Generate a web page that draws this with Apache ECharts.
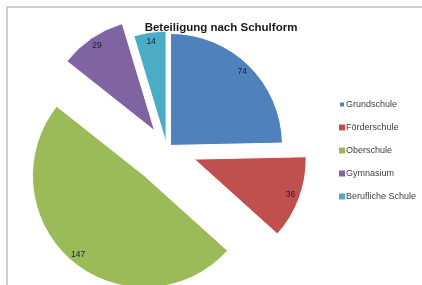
<!DOCTYPE html>
<html>
<head>
<meta charset="utf-8">
<script src="https://cdn.jsdelivr.net/npm/echarts@6/dist/echarts.min.js"></script>
<style>
html,body{margin:0;padding:0;background:#fff;}
#frame{position:absolute;left:6px;top:6px;width:420px;height:285px;border-top:2px solid #cfcfcf;border-left:2px solid #cfcfcf;}
#chart{position:absolute;left:0;top:0;width:422px;height:285px;}
</style>
</head>
<body>
<div id="frame"></div>
<div id="chart"></div>
<script>
const titleText = 'Beteiligung nach Schulform';
const categories = ['Grundschule', 'Förderschule', 'Oberschule', 'Gymnasium', 'Berufliche Schule'];
const values = [74, 36, 147, 29, 14];
const colors = ['#4F81BD', '#C0504D', '#9BBB59', '#8064A2', '#4BACC6'];
const explode = [5, 29, 35, 22, 6];

const center = [167, 149];
const R = 112;

const series = [];
categories.forEach((c, i) => {
  series.push({
    type: 'pie',
    center: center,
    radius: [0, R],
    startAngle: 90,
    clockwise: true,
    selectedMode: 'single',
    selectedOffset: explode[i],
    silent: true,
    animation: false,
    label: {show: false},
    labelLine: {show: false},
    emphasis: {disabled: true},
    data: values.map((v, j) => ({
      name: categories[j],
      value: v,
      selected: j === i,
      itemStyle: j === i ? {color: colors[j], borderColor: '#ffffff', borderWidth: 1}
                         : {color: 'rgba(0,0,0,0)', borderWidth: 0}
    }))
  });
  series.push({
    type: 'pie',
    center: center,
    radius: [R * 0.78, R],
    startAngle: 90,
    clockwise: true,
    selectedMode: 'single',
    selectedOffset: explode[i],
    silent: true,
    animation: false,
    z: 5,
    labelLine: {show: false},
    emphasis: {disabled: true},
    data: values.map((v, j) => ({
      name: categories[j],
      value: v,
      selected: j === i,
      itemStyle: {color: 'rgba(0,0,0,0)', borderWidth: 0},
      label: {
        show: j === i,
        position: 'inside',
        formatter: '{c}',
        color: '#222233',
        fontSize: 8.5,
        fontFamily: 'Liberation Sans'
      }
    }))
  });
});

const chart = echarts.init(document.getElementById('chart'), null, {renderer: 'canvas'});
chart.setOption({
  animation: false,
  backgroundColor: 'transparent',
  title: {
    text: titleText,
    left: 216,
    textAlign: 'center',
    top: 17,
    textStyle: {fontSize: 11.5, fontWeight: 'bold', color: '#1a1a1a', fontFamily: 'Liberation Sans'}
  },
  legend: {
    orient: 'vertical',
    left: 333,
    top: 95,
    itemWidth: 6,
    itemHeight: 6,
    itemGap: 14,
    icon: 'rect',
    selectedMode: false,
    textStyle: {fontSize: 9, color: '#404040', fontFamily: 'Liberation Sans', padding: [0, 0, 0, -4]},
    data: categories.map((c, j) => ({name: c, itemStyle: {color: colors[j], opacity: 1}}))
  },
  series: series
});
</script>
</body>
</html>
